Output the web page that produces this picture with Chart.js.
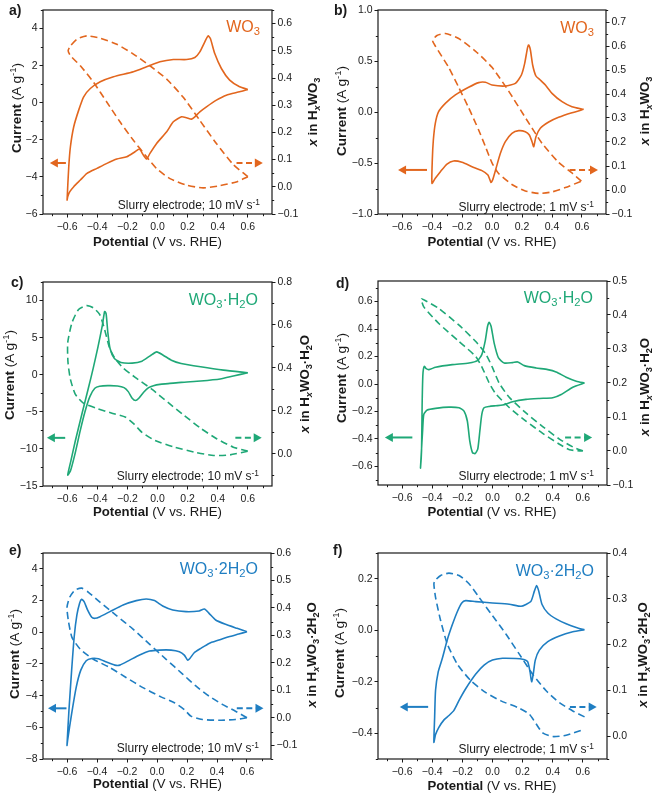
<!DOCTYPE html>
<html><head><meta charset="utf-8">
<script src="https://cdn.jsdelivr.net/npm/chart.js@4"></script>
<style>
html,body{margin:0;padding:0;background:#fff;}
#wrap{position:relative;width:654px;height:795px;overflow:hidden;font-family:"Liberation Sans",Arial,sans-serif;color:#1a1a1a;}
canvas{position:absolute;}
.t{position:absolute;white-space:nowrap;}
.t sub,.t sup{font-size:0.7em;line-height:0;}
.t sub{vertical-align:-0.28em;} .t sup{vertical-align:0.5em;}
.lbl{font-weight:bold;font-size:14px;line-height:14px;}
.cmp{font-size:16px;line-height:16px;}
.sl{font-size:12px;line-height:12px;}
.ttl{font-size:13.2px;line-height:13.2px;}
.lt{font-size:13.6px;line-height:13.6px;}
.rot{transform:translate(-50%,-50%) rotate(-90deg);}
.xt{transform:translateX(-50%);}
</style></head><body><div id="wrap">
<canvas id="ca" width="327" height="265" style="left:0;top:0;width:327px;height:265px"></canvas>
<canvas id="cb" width="327" height="265" style="left:327px;top:0;width:327px;height:265px"></canvas>
<canvas id="cc" width="327" height="265" style="left:0;top:265px;width:327px;height:265px"></canvas>
<canvas id="cd" width="327" height="265" style="left:327px;top:265px;width:327px;height:265px"></canvas>
<canvas id="ce" width="327" height="265" style="left:0;top:530px;width:327px;height:265px"></canvas>
<canvas id="cf" width="327" height="265" style="left:327px;top:530px;width:327px;height:265px"></canvas>

<!-- panel a -->
<div class="t lbl" style="left:9px;top:3px">a)</div>
<div class="t cmp" style="right:394px;top:18.5px;color:#E2661E">WO<sub>3</sub></div>
<div class="t sl" style="right:394px;top:199.1px">Slurry electrode; 10 mV s<sup>-1</sup></div>
<div class="t lt rot" style="left:16.5px;top:108px"><b>Current</b> (A g<sup>-1</sup>)</div>
<div class="t ttl rot" style="left:313px;top:112px;font-weight:bold"><i>x</i> in H<sub><i>x</i></sub>WO<sub>3</sub></div>
<div class="t ttl xt" style="left:157.5px;top:234.8px"><b>Potential</b> (V vs. RHE)</div>
<!-- panel b -->
<div class="t lbl" style="left:334px;top:3px">b)</div>
<div class="t cmp" style="right:60px;top:19.8px;color:#E2661E">WO<sub>3</sub></div>
<div class="t sl" style="right:60px;top:200.5px">Slurry electrode; 1 mV s<sup>-1</sup></div>
<div class="t lt rot" style="left:341.5px;top:111px"><b>Current</b> (A g<sup>-1</sup>)</div>
<div class="t ttl rot" style="left:645px;top:111px;font-weight:bold"><i>x</i> in H<sub><i>x</i></sub>WO<sub>3</sub></div>
<div class="t ttl xt" style="left:492px;top:234.8px"><b>Potential</b> (V vs. RHE)</div>
<!-- panel c -->
<div class="t lbl" style="left:11px;top:275px">c)</div>
<div class="t cmp" style="right:396px;top:291.5px;color:#1FA877">WO<sub>3</sub>·H<sub>2</sub>O</div>
<div class="t sl" style="right:395px;top:469.8px">Slurry electrode; 10 mV s<sup>-1</sup></div>
<div class="t lt rot" style="left:10px;top:375px"><b>Current</b> (A g<sup>-1</sup>)</div>
<div class="t ttl rot" style="left:305px;top:383.5px;font-weight:bold"><i>x</i> in H<sub><i>x</i></sub>WO<sub>3</sub>·H<sub>2</sub>O</div>
<div class="t ttl xt" style="left:157.5px;top:504.8px"><b>Potential</b> (V vs. RHE)</div>
<!-- panel d -->
<div class="t lbl" style="left:336px;top:276px">d)</div>
<div class="t cmp" style="right:61px;top:290.2px;color:#1FA877">WO<sub>3</sub>·H<sub>2</sub>O</div>
<div class="t sl" style="right:60px;top:469.8px">Slurry electrode; 1 mV s<sup>-1</sup></div>
<div class="t lt rot" style="left:342px;top:378px"><b>Current</b> (A g<sup>-1</sup>)</div>
<div class="t ttl rot" style="left:645px;top:387px;font-weight:bold"><i>x</i> in H<sub><i>x</i></sub>WO<sub>3</sub>·H<sub>2</sub>O</div>
<div class="t ttl xt" style="left:492px;top:504.5px"><b>Potential</b> (V vs. RHE)</div>
<!-- panel e -->
<div class="t lbl" style="left:9px;top:543px">e)</div>
<div class="t cmp" style="right:396px;top:560.5px;color:#1F7EC2">WO<sub>3</sub>·2H<sub>2</sub>O</div>
<div class="t sl" style="right:395px;top:741.8px">Slurry electrode; 10 mV s<sup>-1</sup></div>
<div class="t lt rot" style="left:15px;top:653.5px"><b>Current</b> (A g<sup>-1</sup>)</div>
<div class="t ttl rot" style="left:311.7px;top:655px;font-weight:bold"><i>x</i> in H<sub><i>x</i></sub>WO<sub>3</sub>·2H<sub>2</sub>O</div>
<div class="t ttl xt" style="left:157.5px;top:776.8px"><b>Potential</b> (V vs. RHE)</div>
<!-- panel f -->
<div class="t lbl" style="left:333px;top:543px">f)</div>
<div class="t cmp" style="right:60px;top:562.5px;color:#1F7EC2">WO<sub>3</sub>·2H<sub>2</sub>O</div>
<div class="t sl" style="right:60px;top:742.8px">Slurry electrode; 1 mV s<sup>-1</sup></div>
<div class="t lt rot" style="left:340px;top:653px"><b>Current</b> (A g<sup>-1</sup>)</div>
<div class="t ttl rot" style="left:643px;top:655px;font-weight:bold"><i>x</i> in H<sub><i>x</i></sub>WO<sub>3</sub>·2H<sub>2</sub>O</div>
<div class="t ttl xt" style="left:492px;top:778.8px"><b>Potential</b> (V vs. RHE)</div>
</div>
<script>
// ---------------- DATA ----------------
const potentialTicks = [-0.6,-0.4,-0.2,0,0.2,0.4,0.6];

// a) WO3, 10 mV/s
const aCurV = [0.600,0.545,0.457,0.391,0.325,0.281,0.248,0.226,0.193,0.160,0.105,0.061,-0.006,-0.050,-0.072,-0.094,-0.120,-0.149,-0.204,-0.270,-0.336,-0.402,-0.468,-0.512,-0.556,-0.582,-0.596,-0.600,-0.589,-0.578,-0.556,-0.523,-0.490,-0.446,-0.380,-0.292,-0.160,-0.072,0.016,0.105,0.193,0.248,0.281,0.314,0.336,0.351,0.380,0.424,0.479,0.545,0.600];
const aCurI = [0.715,0.589,0.409,0.140,-0.219,-0.488,-0.758,-0.883,-0.811,-0.758,-1.027,-1.566,-2.194,-2.732,-3.038,-2.822,-2.499,-2.643,-2.912,-3.038,-3.271,-3.540,-3.810,-4.169,-4.528,-4.797,-5.066,-5.246,-3.451,-2.373,-1.296,-0.399,0.320,0.768,1.127,1.397,1.666,1.935,2.205,2.330,2.330,2.438,2.743,3.282,3.605,3.461,2.653,1.846,1.217,0.858,0.715];
const aXV = [0.600,0.501,0.391,0.281,0.171,0.061,-0.050,-0.160,-0.270,-0.380,-0.468,-0.534,-0.578,-0.593,-0.578,-0.512,-0.424,-0.336,-0.248,-0.160,-0.072,-0.006,0.083,0.193,0.303,0.413,0.523,0.600];
const aXVal = [0.037,0.083,0.159,0.244,0.329,0.396,0.445,0.488,0.524,0.546,0.555,0.543,0.518,0.500,0.482,0.445,0.384,0.311,0.238,0.171,0.110,0.067,0.030,0.006,-0.004,0.004,0.018,0.037];
const aCurTicks = [-6,-4,-2,0,2,4];
const aXTicks = [-0.1,0,0.1,0.2,0.3,0.4,0.5,0.6];

// b) WO3, 1 mV/s
const bCurV = [0.611,0.533,0.444,0.378,0.322,0.293,0.278,0.267,0.249,0.222,0.178,0.133,0.089,0.056,0.027,0.004,-0.007,-0.027,-0.067,-0.133,-0.200,-0.256,-0.300,-0.344,-0.378,-0.400,-0.398,-0.391,-0.378,-0.356,-0.311,-0.244,-0.156,-0.089,-0.044,0.000,0.089,0.156,0.196,0.218,0.236,0.244,0.256,0.271,0.293,0.322,0.356,0.400,0.467,0.533,0.611];
const bCurI = [0.026,-0.007,-0.052,-0.098,-0.160,-0.242,-0.340,-0.291,-0.225,-0.193,-0.183,-0.209,-0.291,-0.405,-0.552,-0.667,-0.690,-0.618,-0.575,-0.536,-0.493,-0.480,-0.510,-0.585,-0.650,-0.699,-0.471,-0.275,-0.111,0.003,0.085,0.167,0.242,0.288,0.291,0.265,0.255,0.281,0.363,0.477,0.624,0.657,0.608,0.461,0.353,0.314,0.265,0.183,0.101,0.052,0.026];
const bXV = [0.596,0.533,0.444,0.333,0.222,0.111,0.000,-0.111,-0.222,-0.311,-0.367,-0.396,-0.378,-0.289,-0.222,-0.156,-0.089,-0.044,0.000,0.044,0.133,0.222,0.311,0.400,0.489,0.596];
const bXVal = [0.037,0.071,0.115,0.195,0.302,0.412,0.511,0.579,0.631,0.652,0.644,0.623,0.600,0.511,0.428,0.343,0.250,0.181,0.113,0.069,0.023,-0.004,-0.014,-0.008,0.010,0.037];
const bCurTicks = [-1,-0.5,0,0.5,1];
const bXTicks = [-0.1,0,0.1,0.2,0.3,0.4,0.5,0.6,0.7];

// c) WO3·H2O, 10 mV/s
const cCurV = [0.600,0.503,0.416,0.286,0.157,0.070,0.016,-0.027,-0.059,-0.092,-0.124,-0.146,-0.168,-0.194,-0.222,-0.265,-0.330,-0.384,-0.416,-0.449,-0.481,-0.514,-0.546,-0.578,-0.596,-0.578,-0.546,-0.503,-0.459,-0.427,-0.395,-0.366,-0.351,-0.341,-0.330,-0.315,-0.286,-0.243,-0.168,-0.103,-0.049,-0.005,0.038,0.092,0.157,0.286,0.438,0.600];
const cCurI = [0.268,-0.179,-0.580,-0.848,-1.027,-1.205,-1.295,-1.473,-1.741,-2.366,-3.170,-3.482,-3.170,-2.277,-1.741,-1.518,-1.473,-1.563,-1.830,-2.946,-4.955,-7.634,-10.536,-12.991,-13.527,-11.875,-8.973,-5.402,-1.830,0.848,3.750,6.652,8.527,8.214,5.759,3.527,2.188,1.652,1.563,1.830,2.545,3.080,2.634,1.964,1.518,1.071,0.625,0.268];
const cXV = [0.600,0.503,0.395,0.286,0.178,0.070,-0.038,-0.146,-0.232,-0.286,-0.319,-0.351,-0.384,-0.427,-0.470,-0.524,-0.568,-0.596,-0.594,-0.578,-0.546,-0.492,-0.405,-0.297,-0.211,-0.157,-0.103,-0.016,0.114,0.243,0.373,0.481,0.600];
const cXVal = [0.012,0.031,0.069,0.119,0.178,0.239,0.301,0.355,0.402,0.448,0.494,0.579,0.649,0.680,0.690,0.672,0.610,0.517,0.425,0.347,0.278,0.236,0.212,0.188,0.170,0.139,0.100,0.062,0.031,0.008,-0.008,-0.005,0.012];
const cCurTicks = [-15,-10,-5,0,5,10];
const cXTicks = [0,0.2,0.4,0.6,0.8];

// d) WO3·H2O, 1 mV/s
const dCurV = [0.611,0.533,0.456,0.400,0.311,0.222,0.133,0.067,0.022,-0.022,-0.056,-0.071,-0.084,-0.098,-0.116,-0.133,-0.151,-0.167,-0.189,-0.222,-0.289,-0.378,-0.433,-0.456,-0.464,-0.473,-0.478,-0.471,-0.467,-0.462,-0.453,-0.440,-0.422,-0.378,-0.267,-0.156,-0.100,-0.071,-0.049,-0.033,-0.022,-0.009,0.011,0.040,0.078,0.133,0.167,0.211,0.289,0.367,0.422,0.489,0.556,0.611];
const dCurI = [0.008,-0.023,-0.076,-0.100,-0.105,-0.112,-0.129,-0.153,-0.158,-0.163,-0.173,-0.221,-0.342,-0.474,-0.506,-0.499,-0.414,-0.269,-0.197,-0.173,-0.168,-0.177,-0.189,-0.221,-0.342,-0.511,-0.612,-0.486,-0.148,0.069,0.129,0.112,0.105,0.122,0.141,0.153,0.170,0.214,0.310,0.419,0.450,0.419,0.298,0.190,0.153,0.156,0.161,0.134,0.117,0.105,0.088,0.050,0.021,0.008];
const dXV = [0.600,0.533,0.444,0.333,0.222,0.111,0.044,0.000,-0.044,-0.111,-0.222,-0.356,-0.444,-0.473,-0.456,-0.356,-0.222,-0.111,-0.067,-0.022,0.022,0.111,0.222,0.333,0.444,0.511,0.578,0.600];
const dXVal = [0.000,0.012,0.035,0.072,0.112,0.158,0.200,0.245,0.285,0.322,0.370,0.419,0.442,0.448,0.424,0.375,0.322,0.278,0.244,0.200,0.168,0.128,0.088,0.052,0.020,0.004,0.000,0.000];
const dCurTicks = [-0.6,-0.4,-0.2,0,0.2,0.4,0.6];
const dXTicks = [-0.1,0,0.1,0.2,0.3,0.4,0.5];

// e) WO3·2H2O, 10 mV/s
const eCurV = [0.600,0.545,0.479,0.413,0.347,0.292,0.248,0.219,0.204,0.182,0.149,0.094,0.016,-0.050,-0.116,-0.182,-0.248,-0.281,-0.336,-0.391,-0.435,-0.472,-0.508,-0.538,-0.569,-0.596,-0.600,-0.587,-0.569,-0.552,-0.534,-0.516,-0.503,-0.486,-0.463,-0.435,-0.413,-0.380,-0.314,-0.226,-0.138,-0.072,-0.017,0.038,0.105,0.193,0.281,0.316,0.347,0.391,0.457,0.534,0.600];
const eCurI = [0.034,-0.114,-0.283,-0.494,-0.705,-1.021,-1.295,-1.654,-1.759,-1.443,-1.232,-1.127,-1.127,-1.190,-1.443,-1.759,-2.076,-2.076,-1.886,-1.675,-1.654,-1.802,-2.392,-3.447,-5.135,-6.823,-7.139,-4.924,-2.392,-0.283,1.089,1.827,2.080,1.932,1.405,0.941,0.878,0.983,1.300,1.722,1.996,2.101,1.996,1.658,1.405,1.300,1.342,1.468,1.194,0.772,0.498,0.245,0.034];
const eXV = [0.600,0.523,0.435,0.347,0.259,0.171,0.061,-0.050,-0.160,-0.270,-0.380,-0.457,-0.501,-0.545,-0.582,-0.600,-0.591,-0.567,-0.512,-0.424,-0.314,-0.204,-0.094,0.016,0.116,0.182,0.226,0.303,0.413,0.523,0.600];
const eXVal = [0.000,0.024,0.049,0.079,0.116,0.159,0.213,0.268,0.323,0.372,0.421,0.457,0.472,0.466,0.439,0.402,0.354,0.293,0.250,0.213,0.183,0.146,0.110,0.079,0.055,0.030,0.006,-0.006,-0.009,-0.006,0.000];
const eCurTicks = [-8,-6,-4,-2,0,2,4];
const eXTicks = [-0.1,0,0.1,0.2,0.3,0.4,0.5,0.6];

// f) WO3·2H2O, 1 mV/s
const fCurV = [0.611,0.533,0.444,0.367,0.311,0.284,0.271,0.260,0.249,0.233,0.200,0.156,0.067,0.000,-0.056,-0.111,-0.178,-0.222,-0.256,-0.289,-0.322,-0.356,-0.378,-0.389,-0.384,-0.378,-0.360,-0.333,-0.300,-0.267,-0.233,-0.204,-0.178,-0.111,0.000,0.111,0.189,0.222,0.256,0.278,0.293,0.307,0.329,0.367,0.422,0.489,0.556,0.611];
const fCurI = [0.002,-0.006,-0.022,-0.044,-0.077,-0.116,-0.168,-0.200,-0.161,-0.122,-0.113,-0.110,-0.109,-0.116,-0.135,-0.170,-0.227,-0.272,-0.311,-0.331,-0.348,-0.377,-0.405,-0.435,-0.337,-0.233,-0.161,-0.109,-0.037,0.021,0.073,0.106,0.115,0.111,0.106,0.101,0.093,0.100,0.113,0.152,0.174,0.152,0.100,0.067,0.044,0.025,0.011,0.002];
const fXV = [0.611,0.533,0.444,0.356,0.267,0.178,0.089,0.000,-0.089,-0.156,-0.222,-0.289,-0.344,-0.378,-0.389,-0.378,-0.344,-0.300,-0.233,-0.144,-0.044,0.056,0.178,0.244,0.289,0.333,0.400,0.489,0.611];
const fXVal = [0.042,0.055,0.073,0.099,0.135,0.179,0.223,0.263,0.303,0.333,0.351,0.356,0.351,0.341,0.333,0.303,0.252,0.201,0.157,0.121,0.095,0.077,0.061,0.048,0.027,0.007,-0.001,0.002,0.015];
const fCurTicks = [-0.4,-0.2,0,0.2];
const fXTicks = [0,0.1,0.2,0.3,0.4];

// ---------------- DRAWING ----------------
const FONT = "'Liberation Sans', Arial, sans-serif";
const INK = '#1a1a1a';
function fmt(v, d){ const s = Math.abs(v).toFixed(d); return (v < -1e-9 ? '\u2212' : '') + s; }
function pts(xs, ys){ return xs.map((x,i)=>({x:x, y:ys[i]})); }

function makePanel(p){
  const decor = {
    id: 'decor',
    afterDatasetsDraw(chart){
      const ctx = chart.ctx, ca = chart.chartArea;
      const W = ca.right - ca.left, H = ca.bottom - ca.top;
      const y = ca.top + p.arrowY * H;
      ctx.save();
      ctx.strokeStyle = p.color; ctx.fillStyle = p.color; ctx.lineWidth = 2;
      let x1 = ca.left + p.arrowL[0]*W, x2 = ca.left + p.arrowL[1]*W;
      ctx.beginPath(); ctx.moveTo(x2, y); ctx.lineTo(x1+6, y); ctx.stroke();
      ctx.beginPath(); ctx.moveTo(x1, y); ctx.lineTo(x1+8, y-4.5); ctx.lineTo(x1+8, y+4.5); ctx.closePath(); ctx.fill();
      x1 = ca.left + p.arrowR[0]*W; x2 = ca.left + p.arrowR[1]*W;
      ctx.setLineDash([6,3.5]);
      ctx.beginPath(); ctx.moveTo(x1, y); ctx.lineTo(x2-6, y); ctx.stroke();
      ctx.setLineDash([]);
      ctx.beginPath(); ctx.moveTo(x2, y); ctx.lineTo(x2-8, y-4.5); ctx.lineTo(x2-8, y+4.5); ctx.closePath(); ctx.fill();
      ctx.restore();
    },
    afterDraw(chart){
      const ctx = chart.ctx, ca = chart.chartArea;
      ctx.save();
      ctx.strokeStyle = INK; ctx.lineWidth = 1.2;
      ctx.strokeRect(ca.left, ca.top, ca.right-ca.left, ca.bottom-ca.top);
      ctx.lineWidth = 1;
      const minors = (sc) => {
        const t = sc.ticks.map(k=>k.value);
        const st = t[1]-t[0], out = [];
        for (let v = t[0]-st/2; v >= sc.min-1e-9; v -= st) out.push(v);
        for (let i=0;i<t.length;i++){ const v = t[i]+st/2; if (v <= sc.max+1e-9) out.push(v); }
        return out;
      };
      const sx = chart.scales.x, sy = chart.scales.y, sy2 = chart.scales.y2;
      ctx.beginPath();
      minors(sx).forEach(v=>{ const px = Math.round(sx.getPixelForValue(v))+0.5; ctx.moveTo(px, ca.bottom); ctx.lineTo(px, ca.bottom+2.2); });
      minors(sy).forEach(v=>{ const py = Math.round(sy.getPixelForValue(v))+0.5; ctx.moveTo(ca.left, py); ctx.lineTo(ca.left-2.2, py); });
      minors(sy2).forEach(v=>{ const py = Math.round(sy2.getPixelForValue(v))+0.5; ctx.moveTo(ca.right, py); ctx.lineTo(ca.right+2.2, py); });
      ctx.stroke();
      ctx.restore();
    }
  };
  const tickFont = {family: FONT, size: 10.5};
  const grid = {display:true, drawOnChartArea:false, drawTicks:true, tickLength:3.5, tickColor:INK, tickWidth:1};
  new Chart(document.getElementById(p.id), {
    type: 'scatter',
    data: { datasets: [
      {data: pts(p.curV, p.curI), yAxisID:'y', showLine:true, borderColor:p.color, backgroundColor:p.color, borderWidth:1.6, pointRadius:0, tension:0.2, fill:false},
      {data: pts(p.xV, p.xVal), yAxisID:'y2', showLine:true, borderColor:p.color, backgroundColor:p.color, borderWidth:1.6, borderDash:[7,4], pointRadius:0, tension:0.2, fill:false}
    ]},
    options: {
      responsive:false, animation:false, events:[],
      layout:{padding:{top:p.box.top, left:0, right:0, bottom:0}},
      plugins:{legend:{display:false}, tooltip:{enabled:false}},
      scales:{
        x:{type:'linear', position:'bottom', min:-0.76, max:0.76,
           afterBuildTicks:s=>{ s.ticks = potentialTicks.map(v=>({value:v})); },
           afterFit:s=>{ s.height = p.box.bottomH; },
           ticks:{autoSkip:false, maxRotation:0, minRotation:0, padding:3, color:INK, font:tickFont, callback:v=>fmt(v,1)},
           grid:grid, border:{display:false}},
        y:{type:'linear', position:'left', min:p.yMin, max:p.yMax,
           afterBuildTicks:s=>{ s.ticks = p.curTicks.map(v=>({value:v})); },
           afterFit:s=>{ s.width = p.box.leftW; },
           ticks:{autoSkip:false, padding:2, color:INK, font:tickFont, callback:v=>fmt(v,p.yDec)},
           grid:grid, border:{display:false}},
        y2:{type:'linear', position:'right', min:p.y2Min, max:p.y2Max,
           afterBuildTicks:s=>{ s.ticks = p.xTicks.map(v=>({value:v})); },
           afterFit:s=>{ s.width = p.box.rightW; },
           ticks:{autoSkip:false, padding:2, color:INK, font:tickFont, callback:v=>fmt(v,1)},
           grid:grid, border:{display:false}}
      }
    },
    plugins:[decor]
  });
}

const ORANGE = '#E2661E', GREEN = '#1FA877', BLUE = '#1F7EC2';

makePanel({id:'ca', color:ORANGE, curV:aCurV, curI:aCurI, xV:aXV, xVal:aXVal, curTicks:aCurTicks, xTicks:aXTicks,
  yMin:-6, yMax:5, yDec:0, y2Min:-0.1, y2Max:0.65,
  box:{top:10, leftW:43, rightW:55, bottomH:51}, arrowY:0.75, arrowL:[0.03,0.10], arrowR:[0.845,0.96]});
makePanel({id:'cb', color:ORANGE, curV:bCurV, curI:bCurI, xV:bXV, xVal:bXVal, curTicks:bCurTicks, xTicks:bXTicks,
  yMin:-1, yMax:1, yDec:1, y2Min:-0.1, y2Max:0.75,
  box:{top:10, leftW:51, rightW:48, bottomH:51}, arrowY:0.784, arrowL:[0.088,0.215], arrowR:[0.84,0.965]});
makePanel({id:'cc', color:GREEN, curV:cCurV, curI:cCurI, xV:cXV, xVal:cXVal, curTicks:cCurTicks, xTicks:cXTicks,
  yMin:-15, yMax:12.5, yDec:0, y2Min:-0.15, y2Max:0.8,
  box:{top:17, leftW:43, rightW:55, bottomH:44}, arrowY:0.764, arrowL:[0.017,0.097], arrowR:[0.84,0.955]});
makePanel({id:'cd', color:GREEN, curV:dCurV, curI:dCurI, xV:dXV, xVal:dXVal, curTicks:dCurTicks, xTicks:dXTicks,
  yMin:-0.735, yMax:0.75, yDec:1, y2Min:-0.1, y2Max:0.5,
  box:{top:16, leftW:51, rightW:47, bottomH:45}, arrowY:0.767, arrowL:[0.03,0.15], arrowR:[0.817,0.935]});
makePanel({id:'ce', color:BLUE, curV:eCurV, curI:eCurI, xV:eXV, xVal:eXVal, curTicks:eCurTicks, xTicks:eXTicks,
  yMin:-8, yMax:5, yDec:0, y2Min:-0.15, y2Max:0.6,
  box:{top:23, leftW:43, rightW:56, bottomH:36}, arrowY:0.754, arrowL:[0.022,0.103], arrowR:[0.85,0.967]});
makePanel({id:'cf', color:BLUE, curV:fCurV, curI:fCurI, xV:fXV, xVal:fXVal, curTicks:fCurTicks, xTicks:fXTicks,
  yMin:-0.5, yMax:0.3, yDec:1, y2Min:-0.05, y2Max:0.4,
  box:{top:23, leftW:51, rightW:47, bottomH:36}, arrowY:0.747, arrowL:[0.095,0.219], arrowR:[0.838,0.955]});
</script>
</body></html>
